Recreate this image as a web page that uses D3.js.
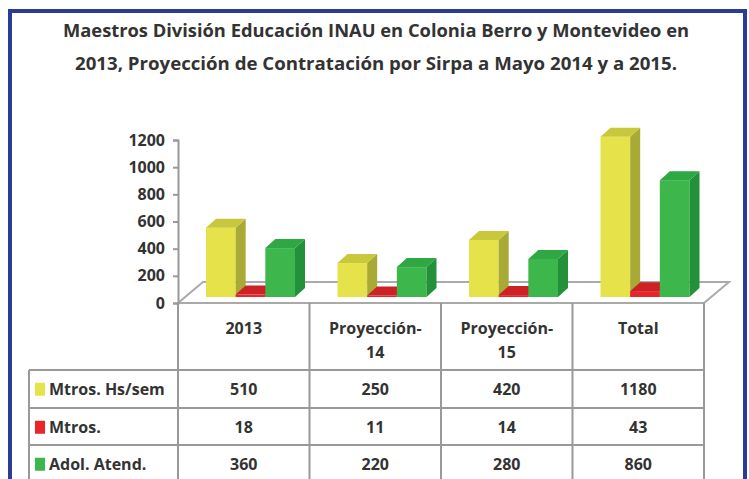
<!DOCTYPE html>
<html lang="es">
<head>
<meta charset="utf-8">
<title>Maestros INAU</title>
<script src="https://cdn.jsdelivr.net/npm/d3@7/dist/d3.min.js"></script>
<style>
  body { margin: 0; background: #fff; }
  text { font-family: "Open Sans", sans-serif; font-weight: 700; fill: #333; }
  .grid { stroke: #999; stroke-width: 2px; fill: none; }
</style>
</head>
<body>
<div id="chart"></div>
<script>
var width = 749, height = 479;

// datos
var categories = ["2013", "Proyección-14", "Proyección-15", "Total"];
var catLines = [["2013"], ["Proyección-", "14"], ["Proyección-", "15"], ["Total"]];
var series = ["Mtros. Hs/sem", "Mtros.", "Adol. Atend."];
var mtrosHs = [510, 250, 420, 1180];
var mtros = [18, 11, 14, 43];
var adol = [360, 220, 280, 860];
var yTicks = [0, 200, 400, 600, 800, 1000, 1200];
var titleLines = [
  "Maestros División Educación INAU en Colonia Berro y Montevideo en",
  "2013, Proyección  de Contratación por Sirpa a Mayo 2014 y a 2015."
];

var values = [mtrosHs, mtros, adol];
var colors = [
  { front: "#e6e34a", side: "#a9a935", top: "#c9c83c" },
  { front: "#e8262a", side: "#b01c20", top: "#cc2226" },
  { front: "#3db64b", side: "#23903a", top: "#2fa742" }
];

var svg = d3.select("#chart").append("svg")
  .attr("width", width)
  .attr("height", height);

// marco azul
svg.append("rect")
  .attr("x", 10).attr("y", 11)
  .attr("width", 735).attr("height", 520)
  .attr("fill", "none")
  .attr("stroke", "#2b3c96")
  .attr("stroke-width", 4);

svg.selectAll(".title").data(titleLines).enter().append("text")
  .attr("class", "title")
  .attr("x", 376)
  .attr("y", function (d, i) { return 37 + i * 33; })
  .attr("text-anchor", "middle")
  .style("font-size", "18px")
  .attr("textLength", function (d, i) { return i == 0 ? 626 : 602; })
  .attr("lengthAdjust", "spacingAndGlyphs")
  .text(function (d) { return d; });

var x = d3.scaleBand().domain(categories).range([178, 704]);
var xs = d3.scaleBand().domain(series).range([28, 117]);
var y = d3.scaleLinear().domain([0, 1200]).range([303, 140]);

var dx = 10, dy = 9, lift = 6;
var floorDx = 25, floorDy = 21;

// piso
svg.append("polygon")
  .attr("points", [[178, y(0)], [178 + floorDx, y(0) - floorDy],
    [704 + floorDx, y(0) - floorDy], [704, y(0)]].join(" "))
  .attr("fill", "#fff")
  .attr("stroke", "#aaa")
  .attr("stroke-width", 2);

// eje y
var yAxis = svg.append("g")
  .attr("transform", "translate(178,0)")
  .call(d3.axisLeft(y).tickValues(yTicks).tickSize(5).tickPadding(8).tickFormat(d3.format("d")));
yAxis.select(".domain").attr("stroke", "#999").attr("stroke-width", 2);
yAxis.selectAll(".tick line").attr("stroke", "#999").attr("stroke-width", 2);
yAxis.selectAll("text").style("font-size", "16px").attr("fill", "#333");

// barras
var bars = [];
categories.forEach(function (c, ci) {
  series.forEach(function (s, si) {
    bars.push({ cat: c, ser: s, si: si, v: values[si][ci] });
  });
});

var base = y(0) - lift;
var g = svg.selectAll(".bar").data(bars).enter().append("g").attr("class", "bar");

g.each(function (d) {
  var sel = d3.select(this);
  var x0 = x(d.cat) + xs(d.ser), w = xs.bandwidth();
  var top = y(d.v) - lift;
  var col = colors[d.si];
  sel.append("rect")
    .attr("x", x0).attr("y", top)
    .attr("width", w).attr("height", base - top)
    .attr("fill", col.front);
  sel.append("polygon")
    .attr("points", [[x0 + w, top], [x0 + w + dx, top - dy], [x0 + w + dx, base - dy], [x0 + w, base]].join(" "))
    .attr("fill", col.side);
  sel.append("polygon")
    .attr("points", [[x0, top], [x0 + dx, top - dy], [x0 + w + dx, top - dy], [x0 + w, top]].join(" "))
    .attr("fill", col.top);
});

// tabla de datos
var rowTop = [370, 408, 445];
var rowH = 37.5;
var tableLeft = 29, tableRight = 704;
var gridG = svg.append("g");

categories.forEach(function (c) {
  gridG.append("line").attr("class", "grid")
    .attr("x1", x(c)).attr("x2", x(c))
    .attr("y1", y(0)).attr("y2", 490);
});
gridG.append("line").attr("class", "grid")
  .attr("x1", tableRight).attr("x2", tableRight).attr("y1", y(0)).attr("y2", 490);
gridG.append("line").attr("class", "grid")
  .attr("x1", tableLeft).attr("x2", tableLeft).attr("y1", rowTop[0]).attr("y2", 490);
rowTop.forEach(function (ry) {
  gridG.append("line").attr("class", "grid")
    .attr("x1", tableLeft).attr("x2", tableRight).attr("y1", ry).attr("y2", ry);
});

// encabezados
categories.forEach(function (c, ci) {
  svg.append("text")
    .attr("x", x(c) + x.bandwidth() / 2)
    .attr("y", 334)
    .attr("text-anchor", "middle")
    .style("font-size", "16px")
    .selectAll("tspan").data(catLines[ci]).enter().append("tspan")
    .attr("x", x(c) + x.bandwidth() / 2)
    .attr("dy", function (d, i) { return i == 0 ? 0 : 24; })
    .text(function (d) { return d; });
});

// filas
series.forEach(function (s, si) {
  var cy = rowTop[si] + rowH / 2;
  svg.append("rect")
    .attr("x", 35).attr("y", cy - 6)
    .attr("width", 10).attr("height", 13)
    .attr("fill", colors[si].front);
  svg.append("text")
    .attr("x", 49).attr("y", cy + 6)
    .style("font-size", "16px")
    .text(s);
  categories.forEach(function (c, ci) {
    svg.append("text")
      .attr("x", x(c) + x.bandwidth() / 2)
      .attr("y", cy + 6)
      .attr("text-anchor", "middle")
      .style("font-size", "16px")
      .text(values[si][ci]);
  });
});
</script>
</body>
</html>
